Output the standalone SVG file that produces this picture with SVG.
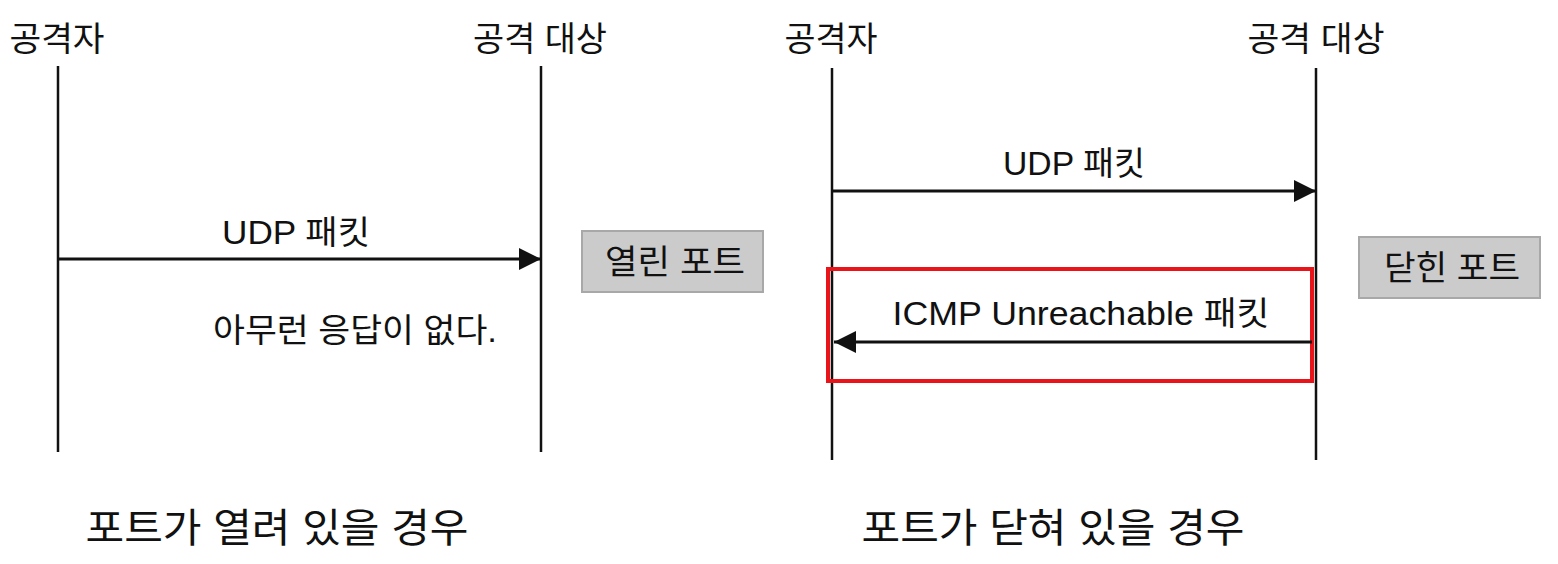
<svg xmlns="http://www.w3.org/2000/svg" width="1558" height="564" viewBox="0 0 1558 564">
<style>
text{font-family:"Liberation Sans","Noto Sans CJK KR",sans-serif;fill:#111}
.t{font-size:34px}
.m{font-size:33px}
.b{font-size:40px}
.life{stroke:#111;stroke-width:2.5;fill:none}
.msg{stroke:#111;stroke-width:3;fill:none}
.state{fill:#cbcbcb;stroke:#a8a8a8;stroke-width:2}
</style>
<defs>
<marker id="ah" viewBox="0 0 10 10" refX="10" refY="5" markerWidth="22" markerHeight="22" markerUnits="userSpaceOnUse" orient="auto">
<path d="M0,0 L10,5 L0,10 Z" fill="#111"/>
</marker>
</defs>
<rect width="1558" height="564" fill="#fff"/>

<g id="left-attacker">
<text class="t" x="57" y="51" text-anchor="middle" textLength="95" lengthAdjust="spacingAndGlyphs">공격자</text>
<line class="life" x1="58" y1="66" x2="58" y2="452"/>
</g>
<g id="left-target">
<text class="t" x="540" y="51" text-anchor="middle" textLength="134" lengthAdjust="spacingAndGlyphs">공격 대상</text>
<line class="life" x1="541" y1="66" x2="541" y2="452"/>
</g>
<g id="left-state">
<rect class="state" x="582" y="231" width="181" height="61"/>
<text class="t" x="675" y="274" text-anchor="middle" textLength="140" lengthAdjust="spacingAndGlyphs">열린 포트</text>
</g>
<g id="left-noreply">
<text class="m" x="355" y="342" text-anchor="middle" textLength="284" lengthAdjust="spacingAndGlyphs">아무런 응답이 없다.</text>
</g>
<g id="left-caption">
<text class="b" x="277" y="542" text-anchor="middle" textLength="383" lengthAdjust="spacingAndGlyphs">포트가 열려 있을 경우</text>
</g>

<g id="right-attacker">
<text class="t" x="831" y="51" text-anchor="middle" textLength="93" lengthAdjust="spacingAndGlyphs">공격자</text>
<line class="life" x1="832" y1="68" x2="832" y2="460"/>
</g>
<g id="right-target">
<text class="t" x="1316" y="51" text-anchor="middle" textLength="137" lengthAdjust="spacingAndGlyphs">공격 대상</text>
<line class="life" x1="1316" y1="68" x2="1316" y2="460"/>
</g>
<g id="right-state">
<rect class="state" x="1359" y="237" width="181" height="61"/>
<text class="t" x="1452" y="280" text-anchor="middle" textLength="136" lengthAdjust="spacingAndGlyphs">닫힌 포트</text>
</g>
<g id="right-caption">
<text class="b" x="1053" y="542" text-anchor="middle" textLength="383" lengthAdjust="spacingAndGlyphs">포트가 닫혀 있을 경우</text>
</g>
<g id="highlight">
<rect x="828" y="269" width="484" height="112" fill="none" stroke="#e8141a" stroke-width="4"/>
</g>

<g id="connectors">
<line class="msg" x1="58" y1="259" x2="541" y2="259" marker-end="url(#ah)"/>
<text class="m" x="296" y="244" text-anchor="middle" textLength="148" lengthAdjust="spacingAndGlyphs">UDP 패킷</text>
<line class="msg" x1="832" y1="191" x2="1316" y2="191" marker-end="url(#ah)"/>
<text class="m" x="1074" y="175" text-anchor="middle" textLength="142" lengthAdjust="spacingAndGlyphs">UDP 패킷</text>
<line class="msg" x1="1312" y1="342" x2="834" y2="342" marker-end="url(#ah)"/>
<text class="m" x="1081" y="325" text-anchor="middle" textLength="377" lengthAdjust="spacingAndGlyphs">ICMP Unreachable 패킷</text>
</g>
</svg>
